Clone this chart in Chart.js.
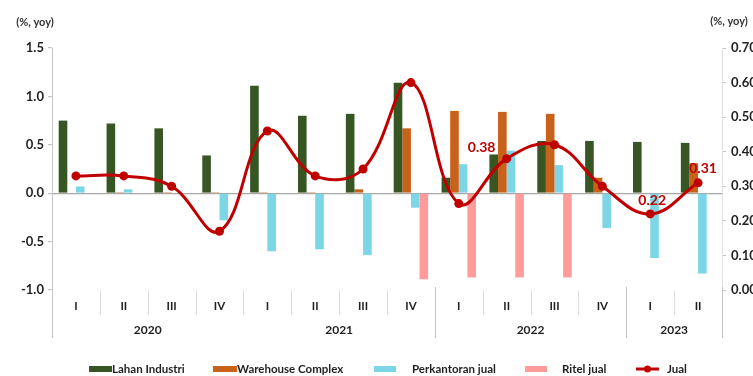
<!DOCTYPE html>
<html>
<head>
<meta charset="utf-8">
<script src="https://cdn.jsdelivr.net/npm/chart.js@4.4.0/dist/chart.umd.min.js"></script>
<style>
  html, body { margin: 0; padding: 0; background: #ffffff; }
  #wrap { width: 753px; height: 376px; }
</style>
</head>
<body>
<div id="wrap"><canvas id="c" width="753" height="376"></canvas></div>
<script>
// Quarterly growth of property sales segments (%, yoy)
const quarters = ['I', 'II', 'III', 'IV', 'I', 'II', 'III', 'IV', 'I', 'II', 'III', 'IV', 'I', 'II'];
const years = ['2020', '2021', '2022', '2023'];
const quartersPerYear = [4, 4, 4, 2];

const lahanIndustri    = [0.75, 0.72, 0.67, 0.39, 1.11, 0.80, 0.82, 1.14, 0.16, 0.40, 0.54, 0.54, 0.53, 0.52];
const warehouseComplex = [0.00, 0.01, 0.01, 0.01, 0.01, 0.01, 0.04, 0.67, 0.85, 0.84, 0.82, 0.16, 0.00, 0.31];
const perkantoranJual  = [0.07, 0.04, 0.00, -0.28, -0.60, -0.58, -0.64, -0.15, 0.30, 0.44, 0.29, -0.36, -0.67, -0.83];
const ritelJual        = [null, null, null, null, null, null, null, -0.89, -0.87, -0.87, -0.87, null, null, null];
const jual             = [0.33, 0.33, 0.30, 0.17, 0.46, 0.33, 0.35, 0.60, 0.25, 0.38, 0.42, 0.30, 0.22, 0.31];

// Points of the Jual line that carry a value label
const labelledPoints = [9, 12, 13];

const leftTicks  = [-1.0, -0.5, 0.0, 0.5, 1.0, 1.5];
const rightTicks = [0.00, 0.10, 0.20, 0.30, 0.40, 0.50, 0.60, 0.70];

const COLORS = {
  lahan: '#375623',
  warehouse: '#c8621a',
  kantor: '#7dd6e6',
  ritel: '#ff9b9b',
  jual: '#c00000',
  text: '#1f1f1f'
};
const FONT = 'Lato, "Open Sans", "DejaVu Sans", sans-serif';

Chart.defaults.font.family = FONT;
Chart.defaults.color = COLORS.text;

// Offsets of each value label relative to its point
const labelOffsets = { 9: [-25, -11], 12: [2, -13], 13: [5, -14] };

const legendItems = [
  { text: 'Lahan Industri',    color: COLORS.lahan,     kind: 'box',  sx: 89,  sw: 23, tx: 112 },
  { text: 'Warehouse Complex', color: COLORS.warehouse, kind: 'box',  sx: 213, sw: 24, tx: 237 },
  { text: 'Perkantoran jual',  color: COLORS.kantor,    kind: 'box',  sx: 374, sw: 22, tx: 412 },
  { text: 'Ritel jual',        color: COLORS.ritel,     kind: 'box',  sx: 525, sw: 22, tx: 562 },
  { text: 'Jual',              color: COLORS.jual,      kind: 'line', sx: 636, sw: 23, tx: 667 }
];

const decorations = {
  id: 'decorations',
  afterDraw(chart) {
    const { ctx, chartArea: a, scales } = chart;
    const x = scales.x;
    const y1 = scales.y1;
    const n = quarters.length;
    const step = (x.right - x.left) / n;
    const edge = i => x.left + step * i;

    ctx.save();

    // category separators below the plot
    const yearEdges = [0];
    quartersPerYear.forEach(q => yearEdges.push(yearEdges[yearEdges.length - 1] + q));
    ctx.lineWidth = 1;
    for (let i = 1; i < n; i++) {
      if (yearEdges.includes(i) && i !== yearEdges[1]) continue;
      const px = Math.round(edge(i)) + 0.5;
      ctx.strokeStyle = '#dedede';
      ctx.beginPath();
      ctx.moveTo(px, a.bottom);
      ctx.lineTo(px, a.bottom + 25);
      ctx.stroke();
    }
    yearEdges.forEach((e, k) => {
      if (k === 1) return;
      const px = Math.round(edge(e)) + 0.5;
      ctx.strokeStyle = '#c4c4c4';
      ctx.beginPath();
      ctx.moveTo(px, a.bottom - (k === 0 ? 0 : 3));
      ctx.lineTo(px, a.bottom + 48);
      ctx.stroke();
    });

    // year labels centred under their quarters
    ctx.fillStyle = COLORS.text;
    ctx.font = 'bold 12px ' + FONT;
    ctx.textAlign = 'center';
    ctx.textBaseline = 'middle';
    years.forEach((yr, k) => {
      const cx = (edge(yearEdges[k]) + edge(yearEdges[k + 1])) / 2;
      ctx.fillText(yr, cx, a.bottom + 40);
    });

    // axis unit titles
    ctx.font = 'bold 11px ' + FONT;
    ctx.fillStyle = '#333333';
    ctx.fillText('(%, yoy)', 35, 22);
    ctx.fillText('(%, yoy)', 729, 21);

    // value labels on the Jual line
    ctx.font = 'bold 14px ' + FONT;
    ctx.fillStyle = COLORS.jual;
    labelledPoints.forEach(i => {
      const px = x.getPixelForValue(i);
      const py = y1.getPixelForValue(jual[i]);
      const [dx, dy] = labelOffsets[i];
      ctx.fillText(jual[i].toFixed(2), px + dx, py + dy);
    });

    // legend
    const ly = 369;
    ctx.font = 'bold 11.5px ' + FONT;
    ctx.textAlign = 'left';
    ctx.fillStyle = COLORS.text;
    legendItems.forEach(it => {
      if (it.kind === 'box') {
        ctx.fillStyle = it.color;
        ctx.fillRect(it.sx, ly - 3, it.sw, 6);
      } else {
        ctx.strokeStyle = it.color;
        ctx.lineWidth = 3;
        ctx.beginPath();
        ctx.moveTo(it.sx, ly);
        ctx.lineTo(it.sx + it.sw, ly);
        ctx.stroke();
        ctx.fillStyle = it.color;
        ctx.beginPath();
        ctx.arc(it.sx + it.sw / 2, ly, 3.5, 0, Math.PI * 2);
        ctx.fill();
      }
      ctx.fillStyle = COLORS.text;
      ctx.fillText(it.text, it.tx, ly);
    });

    ctx.restore();
  }
};

const barCommon = { yAxisID: 'y', categoryPercentage: 0.72, barPercentage: 1.0, order: 2 };

new Chart(document.getElementById('c'), {
  type: 'bar',
  data: {
    labels: quarters,
    datasets: [
      { ...barCommon, label: 'Lahan Industri',    data: lahanIndustri,    backgroundColor: COLORS.lahan },
      { ...barCommon, label: 'Warehouse Complex', data: warehouseComplex, backgroundColor: COLORS.warehouse },
      { ...barCommon, label: 'Perkantoran jual',  data: perkantoranJual,  backgroundColor: COLORS.kantor },
      { ...barCommon, label: 'Ritel jual',        data: ritelJual,        backgroundColor: COLORS.ritel },
      {
        type: 'line', label: 'Jual', data: jual, yAxisID: 'y1', order: 0,
        borderColor: COLORS.jual, backgroundColor: COLORS.jual,
        borderWidth: 3, tension: 0.4,
        pointRadius: 4.5, pointBorderWidth: 0, pointBackgroundColor: COLORS.jual
      }
    ]
  },
  options: {
    responsive: false,
    animation: false,
    devicePixelRatio: 1,
    layout: { padding: { top: 48, left: 0, right: 0, bottom: 0 } },
    plugins: { legend: { display: false }, tooltip: { enabled: false } },
    scales: {
      x: {
        grid: { display: false, drawTicks: false },
        border: { display: false },
        ticks: {
          autoSkip: false, maxRotation: 0, padding: 9,
          color: COLORS.text, font: { size: 11.5, weight: 'bold' }
        },
        afterFit: s => { s.height = 86; }
      },
      y: {
        position: 'left',
        min: -1.0, max: 1.5,
        afterBuildTicks: s => { s.ticks = leftTicks.map(v => ({ value: v })); },
        grid: {
          drawOnChartArea: true, drawTicks: true, tickLength: 4,
          color: c => (c.tick && c.tick.value === 0 ? '#a8a8a8' : 'rgba(0,0,0,0)'),
          tickColor: '#c4c4c4', lineWidth: 1.2
        },
        border: { display: true, color: '#c4c4c4' },
        ticks: {
          padding: 4, color: COLORS.text, font: { size: 13, weight: 'bold' },
          callback: v => Number(v).toFixed(1)
        },
        afterFit: s => { s.width = 52; }
      },
      y1: {
        position: 'right',
        min: 0, max: 0.7,
        afterBuildTicks: s => { s.ticks = rightTicks.map(v => ({ value: v })); },
        grid: { drawOnChartArea: false, drawTicks: true, tickLength: 4, tickColor: '#c4c4c4' },
        border: { display: true, color: '#e0e0e0' },
        ticks: {
          padding: 5, color: COLORS.text, font: { size: 13, weight: 'bold' },
          callback: v => Number(v).toFixed(2)
        },
        afterFit: s => { s.width = 31; }
      }
    }
  },
  plugins: [decorations]
});
</script>
</body>
</html>
